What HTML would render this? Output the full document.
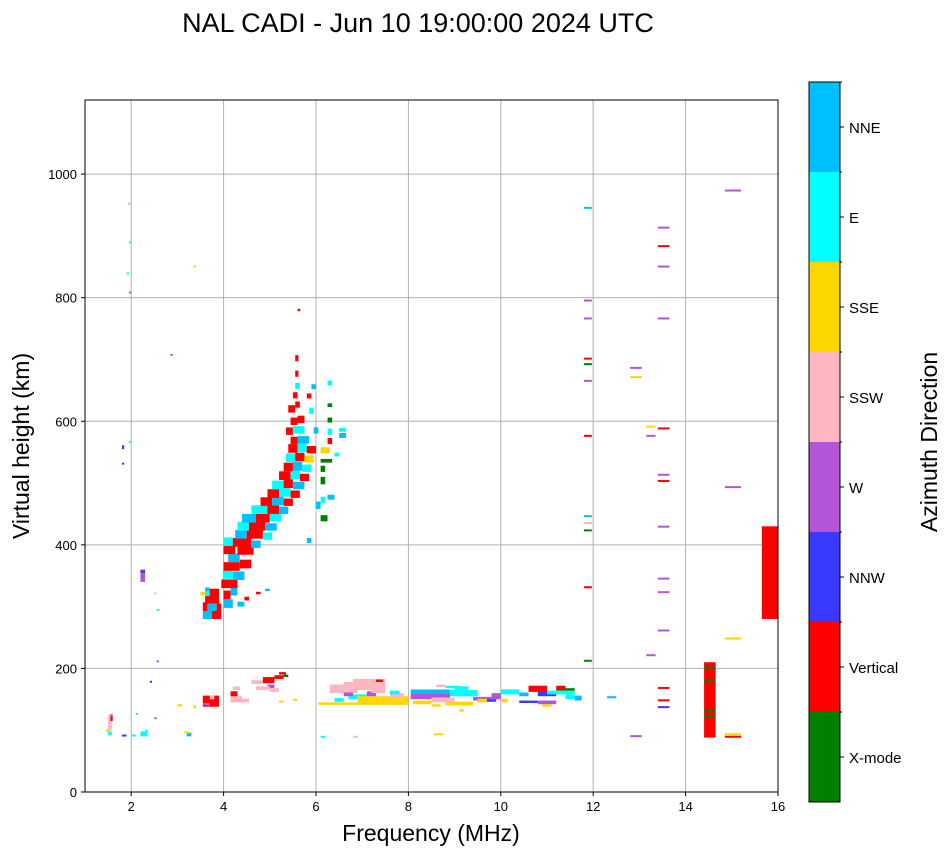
<!DOCTYPE html>
<html><head><meta charset="utf-8"><style>
body{margin:0;background:#fff;font-family:"Liberation Sans",sans-serif}
svg text{font-family:"Liberation Sans",sans-serif}
</style></head><body>
<svg id="chart" width="951" height="856" viewBox="0 0 951 856" xmlns="http://www.w3.org/2000/svg">
<text x="418" y="32" font-size="27" text-anchor="middle">NAL CADI - Jun 10 19:00:00 2024 UTC</text>
<g id="grid"></g>
<g id="marks"></g>
<rect x="85" y="100" width="693" height="692" fill="none" stroke="#000" stroke-width="1"/>
<g id="axes"></g>
<text x="431" y="841" font-size="23" text-anchor="middle">Frequency (MHz)</text>
<text transform="translate(29,446) rotate(-90)" font-size="23" text-anchor="middle">Virtual height (km)</text>
<g id="cbar"></g>
<text transform="translate(937,442) rotate(-90)" font-size="23" text-anchor="middle">Azimuth Direction</text>
</svg>
<script>
const categories=["X-mode","Vertical","NNW","W","SSW","SSE","E","NNE"];
const catColors=["#008000","#ff0000","#3a3aff","#b455d6","#ffb6c1","#ffd700","#00ffff","#00bfff"];
const xTicks=[2,4,6,8,10,12,14,16];
const yTicks=[0,200,400,600,800,1000];
// segments: [fLo MHz, fHi MHz, h km, dh km, direction index]
const segments=[
[3.55,3.75,280,14,7],[3.75,3.95,280,14,1],[3.55,3.65,293,14,1],[3.65,3.85,293,14,7],[3.85,3.95,293,12,1],
[3.6,3.9,305,14,1],[3.6,3.7,317,12,6],[3.7,3.9,317,12,1],[4.0,4.2,298,14,7],[4.0,4.15,312,14,1],[4.15,4.3,318,14,7],
[3.95,4.3,330,14,1],[4.2,4.45,343,14,7],[3.98,4.2,345,14,6],[4.0,4.35,358,14,1],[4.35,4.6,362,14,1],[4.1,4.35,372,14,7],
[4.0,4.25,385,14,1],[4.3,4.65,384,14,1],[4.0,4.2,398,14,6],[4.2,4.6,397,14,1],[4.6,4.8,395,12,7],
[4.25,4.5,410,14,7],[4.5,4.85,410,14,1],[4.85,5.05,408,12,6],[4.3,4.55,423,14,6],[4.55,4.9,423,14,1],[4.9,5.15,423,12,7],
[4.4,4.7,436,14,7],[4.7,5.0,436,14,1],[5.0,5.25,438,12,6],[4.6,4.95,450,14,6],[4.95,5.2,450,14,1],[5.2,5.4,450,12,7],
[4.8,5.05,463,14,1],[5.05,5.3,464,14,7],[5.3,5.5,463,12,1],[4.95,5.2,476,14,1],[5.2,5.45,478,14,6],[5.45,5.65,476,12,1],
[5.05,5.3,490,14,6],[5.3,5.5,492,14,1],[5.5,5.75,490,12,7],[5.2,5.45,505,14,1],[5.45,5.65,506,14,6],[5.65,5.85,503,12,1],
[5.3,5.5,519,14,1],[5.5,5.7,520,14,7],[5.7,5.9,518,12,6],[5.35,5.55,534,14,6],[5.55,5.75,535,14,1],[5.75,5.95,533,12,5],
[5.4,5.6,549,14,1],[5.6,5.8,550,14,6],[5.8,6.0,548,12,1],[5.45,5.6,563,12,1],[5.6,5.85,564,12,7],
[5.35,5.5,578,12,1],[5.5,5.75,580,12,6],[5.45,5.6,594,12,1],[5.6,5.75,597,12,1],[5.4,5.55,614,12,1],[5.55,5.65,622,10,1],
[5.5,5.6,637,10,1],[5.55,5.65,652,10,6],[5.55,5.62,672,10,1],[5.55,5.62,697,10,1],[5.6,5.66,778,4,1],
[5.85,5.95,612,10,6],[5.9,6.0,652,8,7],[5.8,5.9,637,8,1],[5.95,6.05,580,10,7],
[6.1,6.25,438,10,0],[6.1,6.2,468,10,6],[6.25,6.4,473,8,7],[6.1,6.2,498,12,0],[6.1,6.2,518,10,0],[6.1,6.35,533,6,0],
[6.1,6.3,548,10,5],[6.25,6.35,563,10,1],[6.25,6.35,578,10,6],[6.25,6.35,598,8,0],[6.25,6.35,623,6,0],[6.25,6.35,658,8,6],
[6.5,6.65,573,8,7],[6.5,6.65,583,6,6],[6.4,6.5,543,6,6],[6.0,6.1,458,12,7],[5.8,5.9,403,8,7],
[3.5,3.6,318,6,5],[3.6,3.7,325,6,7],[4.7,4.8,320,4,1],[4.9,5.0,325,4,7],[4.3,4.45,300,8,7],[4.45,4.55,310,6,1],
[3.55,3.9,138,18,1],[3.55,3.7,140,4,3],[3.7,3.8,150,6,4],[4.15,4.4,145,10,4],[4.15,4.3,155,8,1],[4.35,4.55,145,6,4],
[4.6,4.85,175,6,4],[4.85,5.1,176,10,1],[4.95,5.1,168,6,3],[5.1,5.3,183,6,1],[5.2,5.35,190,4,1],[5.3,5.4,186,4,0],
[5.0,5.2,162,6,4],[4.7,5.0,165,6,4],[4.2,4.35,165,6,4],
[6.05,8.0,141,4,5],[6.3,6.9,160,14,4],[6.8,7.5,165,18,4],[6.6,6.8,170,8,4],[7.0,7.2,175,6,4],[7.3,7.45,178,4,1],
[6.7,7.1,150,8,6],[6.9,7.4,145,10,5],[7.4,8.0,145,10,5],[7.1,7.3,155,8,3],[7.6,7.9,152,8,4],[7.2,7.5,160,6,4],
[7.6,7.8,158,6,6],[6.4,6.6,146,6,6],[6.6,6.8,155,6,3],
[8.05,8.9,150,10,3],[8.05,8.9,160,6,7],[8.9,9.5,155,10,6],[8.8,9.4,140,6,5],[8.1,8.5,142,6,5],[8.5,9.0,145,8,4],
[9.4,9.8,148,6,3],[9.8,10.0,150,10,3],[9.0,9.3,165,6,6],[9.5,9.9,146,4,2],[8.8,9.1,168,4,6],[8.6,8.8,170,4,4],
[9.5,9.7,145,6,5],[8.5,8.7,138,4,5],[9.1,9.2,130,4,5],
[10.0,10.4,158,8,6],[10.0,10.15,145,6,5],[10.4,10.6,155,6,7],[10.6,11.0,162,10,1],[10.8,11.2,155,8,2],[11.0,11.6,158,6,6],
[11.2,11.6,164,4,0],[11.2,11.4,166,6,1],[10.4,10.8,144,4,2],[10.8,11.2,142,6,3],[11.4,11.6,150,8,6],[11.6,11.75,148,8,7],
[10.9,11.1,138,4,5],[12.3,12.5,152,3,7],
[1.5,1.58,100,25,4],[1.55,1.6,115,8,1],[1.5,1.58,92,6,6],[1.55,1.6,122,4,3],[1.45,1.55,97,4,5],[1.8,1.9,90,3,2],
[2.0,2.1,90,3,6],[2.2,2.35,90,8,6],[2.3,2.35,95,6,6],[2.1,2.15,125,3,6],[2.5,2.55,118,3,3],[3.2,3.3,90,6,7],
[3.15,3.25,95,3,5],[3.35,3.4,135,6,5],[2.2,2.3,340,20,3],[2.2,2.3,355,4,2],[2.5,2.55,320,3,4],[2.55,2.6,293,3,6],
[2.55,2.6,210,3,3],[2.4,2.45,177,3,2],[1.8,1.85,555,6,2],[1.8,1.85,530,3,2],[1.95,2.0,565,3,6],[1.9,1.95,838,3,6],
[1.95,2.0,888,3,6],[1.93,1.98,950,4,4],[1.95,2.0,808,2,3],[2.85,2.9,706,3,3],[3.35,3.4,849,3,5],[3.0,3.1,140,2,5],
[6.1,6.2,88,3,6],[6.8,6.9,88,3,4],[8.55,8.75,92,3,5],[5.2,5.3,145,3,5],[5.5,5.6,148,3,5],
[11.8,11.97,944,3,7],[11.8,11.97,794,3,3],[11.8,11.97,765,3,3],[11.8,11.97,700,3,1],[11.8,11.97,691,3,0],
[11.8,11.97,664,3,3],[11.8,11.97,575,3,1],[11.8,11.97,445,3,7],[11.8,11.97,435,2,4],[11.8,11.97,422,3,0],
[11.8,11.97,330,3,1],[11.8,11.97,211,3,0],
[12.8,13.05,685,3,3],[12.8,13.05,670,3,5],[12.8,13.05,89,3,3],[13.15,13.35,590,3,5],[13.15,13.35,575,3,3],[13.15,13.35,220,3,3],
[13.4,13.65,912,3,3],[13.4,13.65,882,3,1],[13.4,13.65,849,3,3],[13.4,13.65,765,3,3],[13.4,13.65,587,3,1],[13.4,13.65,512,3,3],
[13.4,13.65,502,3,1],[13.4,13.65,428,3,3],[13.4,13.65,344,3,3],[13.4,13.65,322,3,3],[13.4,13.65,260,3,3],
[13.4,13.65,167,3,1],[13.4,13.65,147,3,1],[13.4,13.65,136,3,2],
[14.4,14.65,88,122,1],[14.4,14.65,120,3,0],[14.4,14.65,130,3,0],[14.4,14.65,178,3,0],[14.4,14.65,200,3,0],
[14.85,15.2,972,3,3],[14.85,15.2,492,3,3],[14.85,15.2,247,3,5],[14.85,15.2,92,3,5],[14.85,15.2,88,3,1],
[15.65,16.0,280,150,1]
];
const NS="http://www.w3.org/2000/svg";
const X0=85,X1=778,Y0=792,Y1=100;
function xs(f){return X0+(f-1)/15*(X1-X0);}
function ys(h){return Y0-h*0.6179;}
function mk(tag,attrs,parent){const e=document.createElementNS(NS,tag);for(const k in attrs)e.setAttribute(k,attrs[k]);parent.appendChild(e);return e;}
const grid=document.getElementById('grid'),axes=document.getElementById('axes'),marks=document.getElementById('marks'),cbar=document.getElementById('cbar');
xTicks.forEach(t=>{
  const x=xs(t);
  const gl=mk('line',{x1:x,x2:x,y1:Y1,y2:Y0,stroke:'#b0b0b0','stroke-width':1},grid);
  
  
  mk('line',{x1:x,x2:x,y1:Y0,y2:Y0+4,stroke:'#000'},axes);
  const tx=mk('text',{x:x,y:Y0+19,'font-size':13,'text-anchor':'middle'},axes);
  tx.textContent=t;
  
  
});
yTicks.forEach(t=>{
  const y=ys(t);
  const gl=mk('line',{x1:X0,x2:X1,y1:y,y2:y,stroke:'#b0b0b0','stroke-width':1},grid);
  
  
  mk('line',{x1:X0-4,x2:X0,y1:y,y2:y,stroke:'#000'},axes);
  const tx=mk('text',{x:X0-8,y:y+5,'font-size':13,'text-anchor':'end'},axes);
  tx.textContent=t;
  
  
});
segments.forEach(s=>{
  const x=xs(s[0]),w=Math.max(1.5,xs(s[1])-x),y=ys(s[2]+s[3]),h=Math.max(2,s[3]*0.6179);
  const r=mk('rect',{x:x,y:y,width:w,height:h,fill:catColors[s[4]]},marks);
  
  
});
const CB0=802,CB1=82,cbh=(CB0-CB1)/categories.length;
categories.forEach((c,i)=>{
  const y=CB0-(i+1)*cbh;
  const r=mk('rect',{x:809,y:y,width:31,height:cbh,fill:catColors[i]},cbar);
  
  
  mk('line',{x1:840,x2:844,y1:y+cbh/2,y2:y+cbh/2,stroke:'#000'},cbar);
  mk('line',{x1:840,x2:842,y1:y,y2:y,stroke:'#000'},cbar);
  const tx=mk('text',{x:849,y:y+cbh/2+6,'font-size':15},cbar);
  tx.textContent=c;
  
  
});
mk('rect',{x:809,y:CB1,width:31,height:CB0-CB1,fill:'none',stroke:'#000'},cbar);
</script>
</body></html>
